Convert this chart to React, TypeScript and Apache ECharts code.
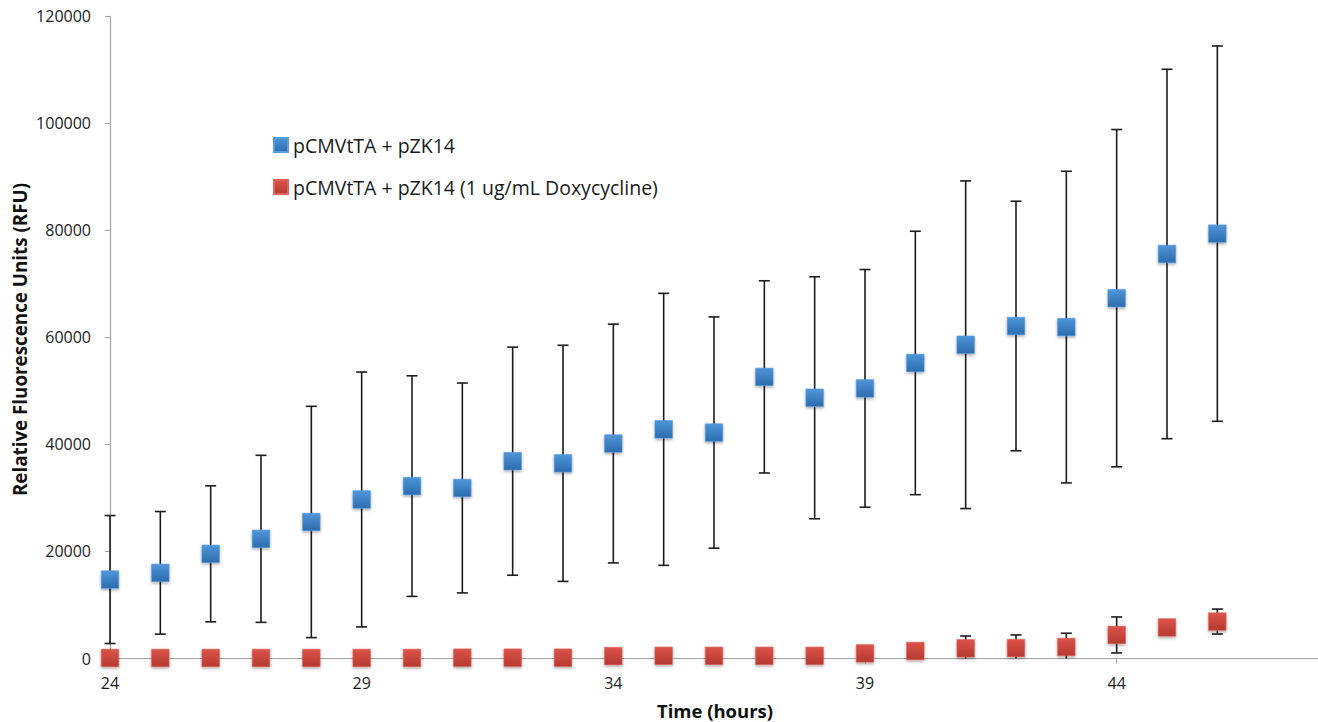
import React, { useEffect, useRef } from "react";
import * as echarts from "echarts";

const hours = [24, 25, 26, 27, 28, 29, 30, 31, 32, 33, 34, 35, 36, 37, 38, 39, 40, 41, 42, 43, 44, 45, 46];
const blueMean = [14750, 16000, 19550, 22350, 25500, 29700, 32200, 31850, 36850, 36450, 40150, 42800, 42200, 52600, 48700, 50450, 55200, 58600, 62100, 61900, 67300, 75550, 79350];
const blueErr = [11950, 11450, 12700, 15600, 21600, 23800, 20600, 19600, 21300, 22050, 22300, 25400, 21600, 17950, 22600, 22200, 24600, 30600, 23300, 29100, 31500, 34500, 35050];
const redMean = [100, 100, 100, 100, 100, 100, 100, 150, 150, 150, 450, 500, 500, 500, 500, 950, 1400, 1900, 1950, 2150, 4400, 5800, 6900];
const redErr = [200, 200, 200, 200, 200, 200, 200, 250, 250, 250, 300, 300, 300, 300, 300, 500, 800, 2300, 2450, 2570, 3360, 1200, 2330];
const xTicks = [24, 29, 34, 39, 44];
const seriesNames = ["pCMVtTA + pZK14", "pCMVtTA + pZK14 (1 ug/mL Doxycycline)"];
const xTitle = "Time (hours)";
const yTitle = "Relative Fluorescence Units (RFU)";

const FONT = "'Open Sans', 'Noto Sans', sans-serif";

function errorRenderItem(params: any, api: any) {
  const x = api.value(0);
  const lo = api.value(1);
  const hi = api.value(2);
  const top = api.coord([x, hi]);
  const bot = api.coord([x, Math.max(lo, 0)]);
  const half = 5.5;
  const style = { stroke: "#1c1c1c", lineWidth: 1.6 };
  const children: any[] = [
    { type: "line", shape: { x1: top[0], y1: top[1], x2: bot[0], y2: bot[1] }, style },
    { type: "line", shape: { x1: top[0] - half, y1: top[1], x2: top[0] + half, y2: top[1] }, style },
  ];
  if (lo >= 0) {
    children.push({ type: "line", shape: { x1: bot[0] - half, y1: bot[1], x2: bot[0] + half, y2: bot[1] }, style });
  }
  return { type: "group", children };
}

export default function App() {
  const ref = useRef<HTMLDivElement>(null);
  useEffect(() => {
    document.body.style.margin = "0";
    const chart = echarts.init(ref.current!, null, { renderer: "svg" });
    const blueGrad = new echarts.graphic.LinearGradient(0, 0, 0, 1, [
      { offset: 0, color: "#4f95d9" },
      { offset: 1, color: "#2c6cae" },
    ]);
    const redGrad = new echarts.graphic.LinearGradient(0, 0, 0, 1, [
      { offset: 0, color: "#dc5248" },
      { offset: 1, color: "#b53a32" },
    ]);
    const blueErrData = hours.map((h, i) => [h, blueMean[i] - blueErr[i], blueMean[i] + blueErr[i]]);
    const redErrData = hours.map((h, i) => [h, redMean[i] - redErr[i], redMean[i] + redErr[i]]);
    chart.setOption({
      animation: false,
      textStyle: { fontFamily: FONT },
      grid: { left: 110, top: 16, width: 1211, height: 642.5, containLabel: false },
      legend: {
        data: seriesNames,
        orient: "vertical",
        left: 273,
        top: 135,
        padding: 0,
        itemWidth: 14,
        itemHeight: 14,
        itemGap: 22,
        icon: "rect",
        textStyle: { fontFamily: FONT, fontSize: 19.5, color: "#1a1a1a" },
        selectedMode: false,
      },
      graphic: [
        {
          type: "text",
          x: 715,
          y: 710.5,
          style: {
            text: xTitle,
            fontFamily: FONT,
            fontSize: 18.5,
            fontWeight: "bold",
            fill: "#111",
            align: "center",
            verticalAlign: "middle",
          },
        },
        {
          type: "text",
          x: 19.5,
          y: 339.5,
          rotation: Math.PI / 2,
          style: {
            text: yTitle,
            fontFamily: FONT,
            fontSize: 18.8,
            fontWeight: "bold",
            fill: "#111",
            align: "center",
            verticalAlign: "middle",
          },
        },
      ],
      xAxis: {
        type: "value",
        min: 24,
        max: 48,
        axisLine: { show: true, lineStyle: { color: "#a3a3a3", width: 1.2 } },
        axisTick: { show: true, length: 5, inside: false, customValues: xTicks, lineStyle: { color: "#a3a3a3" } },
        axisLabel: { customValues: xTicks, fontSize: 16, color: "#1a1a1a", margin: 16, fontFamily: FONT },
        splitLine: { show: false },
      },
      yAxis: {
        type: "value",
        min: 0,
        max: 120000,
        interval: 20000,
        axisLine: { show: true, lineStyle: { color: "#a3a3a3", width: 1.2 } },
        axisTick: { show: true, length: 5, inside: false, lineStyle: { color: "#a3a3a3" } },
        axisLabel: { fontSize: 16, color: "#1a1a1a", margin: 19, fontFamily: FONT, formatter: (v: number) => String(v) },
        splitLine: { show: false },
      },
      series: [
        {
          type: "custom",
          name: "blueErr",
          renderItem: errorRenderItem,
          data: blueErrData,
          encode: { x: 0, y: [1, 2] },
          z: 1,
          silent: true,
        },
        {
          type: "custom",
          name: "redErr",
          renderItem: errorRenderItem,
          data: redErrData,
          encode: { x: 0, y: [1, 2] },
          z: 1,
          silent: true,
        },
        {
          type: "scatter",
          name: seriesNames[0],
          data: hours.map((h, i) => [h, blueMean[i]]),
          symbol: "rect",
          symbolSize: 17.5,
          z: 3,
          itemStyle: {
            color: blueGrad,
            borderColor: "#5a9be0",
            borderWidth: 0.6,
            shadowBlur: 3,
            shadowColor: "rgba(0,0,0,0.35)",
            shadowOffsetY: 1.5,
            opacity: 1,
          },
        },
        {
          type: "scatter",
          name: seriesNames[1],
          data: hours.map((h, i) => [h, redMean[i]]),
          symbol: "rect",
          symbolSize: 17.5,
          z: 3,
          itemStyle: {
            color: redGrad,
            borderColor: "#e06259",
            borderWidth: 0.6,
            shadowBlur: 3,
            shadowColor: "rgba(0,0,0,0.35)",
            shadowOffsetY: 1.5,
            opacity: 1,
          },
        },
      ],
    });
    return () => chart.dispose();
  }, []);
  return <div ref={ref} style={{ width: 1318, height: 722 }} />;
}
